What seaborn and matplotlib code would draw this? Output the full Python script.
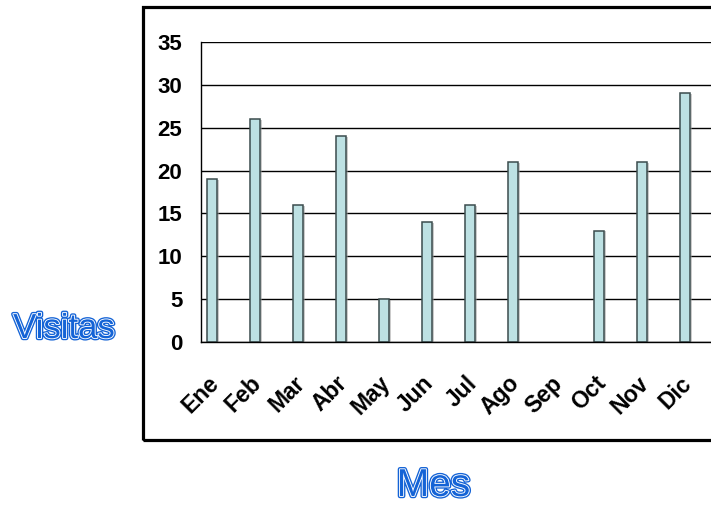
import matplotlib
matplotlib.use('Agg')
import numpy as np
import pandas as pd
import matplotlib.pyplot as plt
import matplotlib.patheffects as pe
from matplotlib import font_manager
from matplotlib.patches import Rectangle
from matplotlib.ticker import FixedLocator
from matplotlib.transforms import ScaledTranslation
import seaborn as sns

# ---- data ----
months = ['Ene', 'Feb', 'Mar', 'Abr', 'May', 'Jun', 'Jul', 'Ago', 'Sep', 'Oct', 'Nov', 'Dic']
visits = [19, 26, 16, 24, 5, 14, 16, 21, 0, 13, 21, 29]
series_levels = ['Visitas', 'Serie2', 'Serie3']
y_ticks = [0, 5, 10, 15, 20, 25, 30, 35]
x_title = 'Mes'
y_title = 'Visitas'

sns.set_style('white')


def pick(fams):
    for f in fams:
        try:
            font_manager.findfont(f, fallback_to_default=False)
            return f
        except Exception:
            pass
    return 'DejaVu Sans'


narrow = pick(['Liberation Sans Narrow', 'Liberation Sans'])
plt.rcParams['font.family'] = ['Liberation Sans', 'DejaVu Sans']
plt.rcParams['text.color'] = 'black'
plt.rcParams['xtick.color'] = 'black'
plt.rcParams['ytick.color'] = 'black'
plt.rcParams['xtick.labelcolor'] = 'black'
plt.rcParams['ytick.labelcolor'] = 'black'
is_narrow = narrow == 'Liberation Sans Narrow'

W, H = 711, 505
fig = plt.figure(figsize=(W / 100, H / 100), dpi=100)
y0, y35 = 342.3, 41.7
ax = fig.add_axes([200.5 / W, (H - y0) / H, 516 / W, (y0 - y35) / H])

df = pd.DataFrame({'Mes': months, 'Visitas': visits, 'serie': series_levels[0]})
bar_face = '#bde1e3'
sns.barplot(data=df, x='Mes', y='Visitas', hue='serie', hue_order=series_levels,
            order=months, palette=[bar_face] * 3, width=0.72, dodge=True, saturation=1,
            edgecolor='#3b4c4d', linewidth=1.1, legend=False, ax=ax, zorder=3)
for p in ax.patches:
    if p.get_height() > 0:
        p.set_path_effects([pe.SimplePatchShadow(offset=(1.5, -0.5), shadow_rgbFace='#999999',
                                                 alpha=0.5), pe.Normal()])
    else:
        p.set_visible(False)

ax.set_xlim(-0.5, len(months) - 0.5)
ax.set_ylim(0, 35)
ax.set_yticks(y_ticks)
ax.yaxis.grid(True, color='black', linewidth=1)
ax.xaxis.grid(False)
ax.set_axisbelow(True)
for s in ['top', 'right']:
    ax.spines[s].set_visible(False)
for s in ['left', 'bottom']:
    ax.spines[s].set_color('black')
    ax.spines[s].set_linewidth(1)
    ax.spines[s].set_zorder(4)

ax.set_xlabel('')
ax.set_ylabel('')
ax.tick_params(axis='y', direction='out', length=5, width=1, color='black', pad=8,
               labelsize=16, labelcolor='black')
for t in ax.get_yticklabels():
    t.set_fontweight('bold')

ax.set_xticks(range(len(months)))
ax.set_xticklabels(months)
ax.xaxis.set_minor_locator(FixedLocator(np.arange(-0.5, len(months), 1)))
ax.tick_params(axis='x', which='major', length=0, pad=27, labelsize=16.5, labelcolor='black')
ax.tick_params(axis='x', which='minor', direction='out', length=6, width=1, color='black')
off = ScaledTranslation(-5 / 72, 0, fig.dpi_scale_trans)
for t in ax.get_xticklabels():
    t.set_rotation(45)
    t.set_ha('right')
    t.set_va('center')
    t.set_rotation_mode('anchor')
    t.set_fontweight('bold')
    t.set_transform(t.get_transform() + off)

# outer chart frame
fig.add_artist(Rectangle((142.5 / W, (H - 440) / H), (730 - 142.5) / W, (440 - 6.5) / H,
                         transform=fig.transFigure, fill=False, lw=2.3, ec='black',
                         clip_on=False))

blue = '#1463d6'
effects = [pe.Stroke(linewidth=3.2, foreground=blue), pe.Stroke(linewidth=1.3, foreground='white'),
           pe.Normal()]
fig.text(64 / W, (H - 338) / H, y_title, ha='center', va='baseline',
         fontsize=30 if is_narrow else 25, family=[narrow, 'DejaVu Sans'],
         color=blue, path_effects=effects)
fig.text(433.5 / W, (H - 496) / H, x_title, ha='center', va='baseline',
         fontsize=32 if is_narrow else 28, family=[narrow, 'DejaVu Sans'],
         color=blue, path_effects=effects)

fig.savefig('out.png', dpi=100)
